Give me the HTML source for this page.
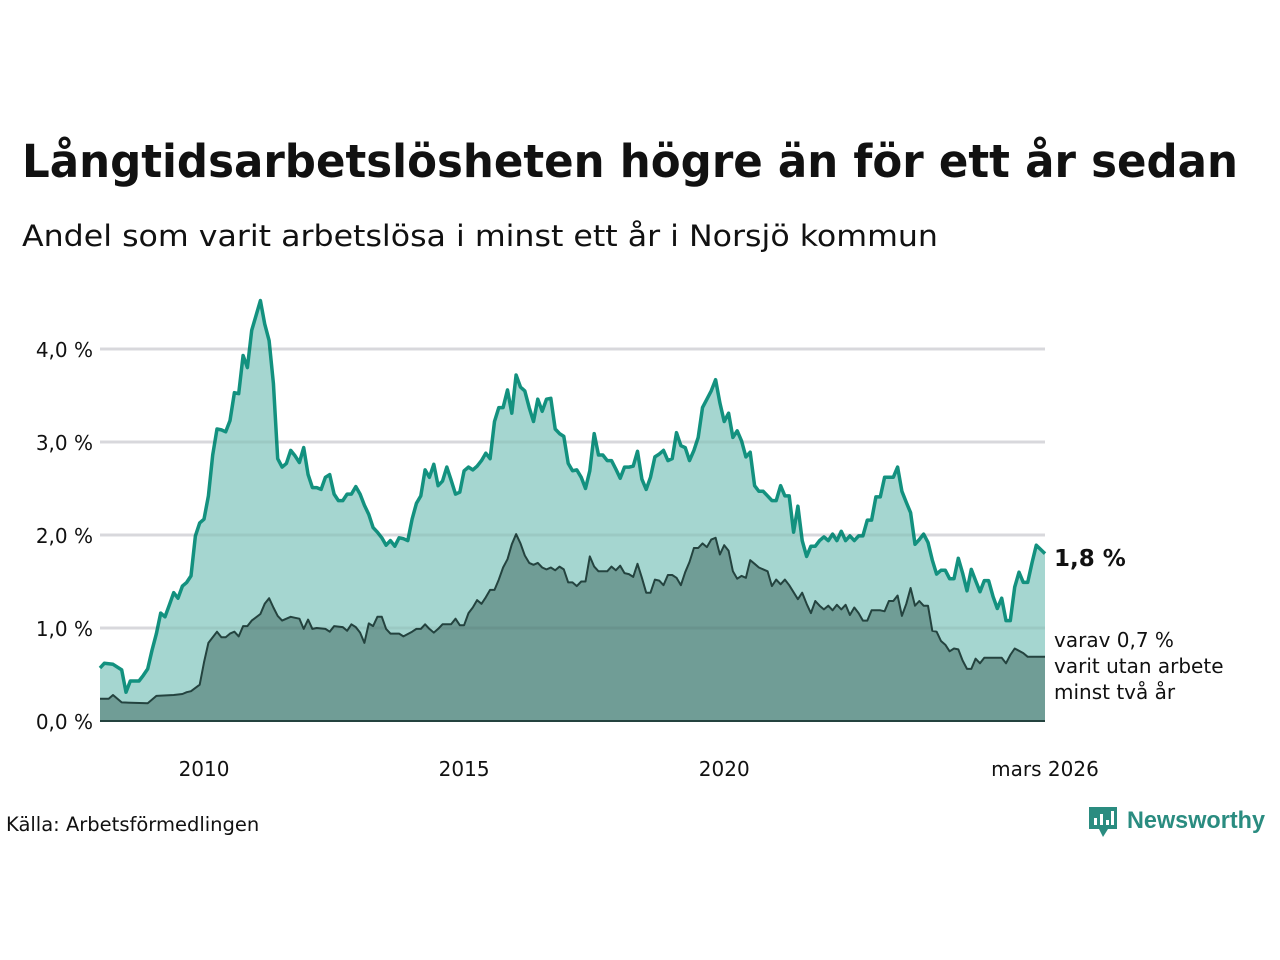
<!DOCTYPE html>
<html><head><meta charset="utf-8"><style>
body{margin:0;background:#fff;}
svg{display:block;font-family:"DejaVu Sans","Liberation Sans",sans-serif;}
</style></head><body>
<svg width="1280" height="960" viewBox="0 0 1280 960">
<text x="22" y="177" font-size="45" font-weight="bold" fill="#111" textLength="1216" lengthAdjust="spacingAndGlyphs">Långtidsarbetslösheten högre än för ett år sedan</text>
<text x="22" y="246" font-size="29" fill="#111" textLength="916" lengthAdjust="spacingAndGlyphs">Andel som varit arbetslösa i minst ett år i Norsjö kommun</text>
<g id="grid"></g>
<g id="areas"></g>
<g id="ylabels"></g>
<g id="xlabels"></g>
<text x="1054" y="566" font-size="23" font-weight="bold" fill="#111">1,8 %</text>
<text font-size="20" fill="#111"><tspan x="1054" y="647">varav 0,7 %</tspan><tspan x="1054" y="673">varit utan arbete</tspan><tspan x="1054" y="699">minst två år</tspan></text>
<text x="6" y="831" font-size="19.5" fill="#111">Källa: Arbetsförmedlingen</text>
<g>
<path d="M1089 807h28v22h-9l-5 8-4-8h-10z" fill="#2a8c80"/>
<rect x="1094" y="818" width="3" height="7" fill="#fff"/><rect x="1100" y="814" width="3" height="11" fill="#fff"/><rect x="1106" y="820" width="3" height="5" fill="#fff"/><rect x="1111" y="811" width="3" height="14" fill="#fff"/>
<text x="1127" y="828" font-size="24" font-weight="bold" fill="#2a8c80" textLength="138" lengthAdjust="spacingAndGlyphs" font-family="Liberation Sans, sans-serif">Newsworthy</text>
</g>
</svg>
<script>
const yTicks=[0,1,2,3,4];
const yTickLabels=["0,0 %","1,0 %","2,0 %","3,0 %","4,0 %"];
const xTickYears=[2010,2015,2020];
const xTickLabels=["2010","2015","2020"];
// months since Jan 2008
const totalMonths=[0,1,3,5,6,7,9,10,11,12,13,14,15,16,17,18,19,20,21,22,23,24,25,26,27,28,29,30,31,32,33,34,35,37,38,39,40,41,42,43,44,45,46,47,48,49,50,51,52,53,54,55,56,57,58,59,60,61,62,63,64,65,66,67,68,69,70,71,72,73,74,75,76,77,78,79,80,81,82,83,84,85,86,87,88,89,90,91,92,93,94,95,96,97,98,99,100,101,102,103,104,105,106,107,108,109,110,111,112,113,114,115,116,117,118,119,120,121,122,123,124,125,126,127,128,129,130,131,132,133,134,135,136,137,138,139,140,141,142,143,144,145,146,147,148,149,150,151,152,153,154,155,156,157,158,159,160,161,162,163,164,165,166,167,168,169,170,171,172,173,174,175,176,177,178,179,180,181,182,183,184,185,186,187,188,189,190,191,192,193,194,195,196,197,198,199,200,201,202,203,204,205,206,207,208,209,210,211,212,213,214,215,216,218];
const totalValues=[0.57,0.62,0.61,0.55,0.31,0.43,0.43,0.49,0.56,0.76,0.94,1.16,1.12,1.25,1.38,1.32,1.45,1.49,1.56,1.99,2.13,2.17,2.42,2.86,3.14,3.13,3.11,3.23,3.53,3.52,3.93,3.80,4.20,4.52,4.27,4.09,3.63,2.82,2.73,2.77,2.91,2.85,2.78,2.94,2.65,2.51,2.51,2.49,2.62,2.65,2.44,2.37,2.37,2.44,2.44,2.52,2.44,2.32,2.22,2.08,2.03,1.97,1.89,1.94,1.88,1.97,1.96,1.94,2.17,2.34,2.42,2.70,2.62,2.76,2.53,2.58,2.73,2.59,2.44,2.46,2.69,2.73,2.70,2.74,2.80,2.88,2.82,3.22,3.37,3.37,3.56,3.31,3.72,3.59,3.55,3.37,3.22,3.46,3.33,3.46,3.47,3.14,3.09,3.06,2.77,2.69,2.70,2.62,2.50,2.69,3.09,2.86,2.86,2.80,2.80,2.71,2.61,2.73,2.73,2.74,2.90,2.60,2.49,2.62,2.84,2.87,2.91,2.80,2.82,3.10,2.96,2.94,2.80,2.91,3.05,3.37,3.46,3.55,3.67,3.42,3.22,3.31,3.05,3.12,3.01,2.84,2.89,2.53,2.47,2.47,2.42,2.37,2.37,2.53,2.42,2.42,2.03,2.31,1.94,1.77,1.88,1.88,1.94,1.98,1.94,2.01,1.94,2.04,1.94,1.99,1.94,1.99,1.99,2.16,2.16,2.41,2.41,2.62,2.62,2.62,2.73,2.47,2.35,2.24,1.90,1.95,2.01,1.92,1.73,1.58,1.62,1.62,1.53,1.53,1.75,1.59,1.40,1.63,1.51,1.39,1.51,1.51,1.34,1.21,1.32,1.08,1.08,1.44,1.60,1.49,1.49,1.70,1.89,1.80];
const longMonths=[0,2,3,5,11,13,17,19,20,21,23,24,25,27,28,29,30,31,32,33,34,35,37,38,39,40,41,42,44,45,46,47,48,49,50,52,53,54,56,57,58,59,60,61,62,63,64,65,66,67,69,70,72,73,74,75,76,77,78,79,81,82,83,84,85,86,87,88,89,90,91,92,93,94,95,96,97,98,99,100,101,102,103,104,105,106,107,108,109,110,111,112,113,114,115,116,117,118,119,120,121,122,123,124,125,126,127,128,129,130,131,132,133,134,135,136,137,138,139,140,141,142,143,144,145,146,147,148,149,150,151,152,154,155,156,157,158,159,161,162,163,164,165,166,167,168,169,170,171,172,173,174,175,176,177,178,180,181,182,183,184,185,186,187,188,189,190,191,192,193,194,195,196,197,198,199,200,201,202,203,204,205,207,208,209,210,211,213,214,218];
const longValues=[0.24,0.24,0.28,0.20,0.19,0.27,0.28,0.29,0.31,0.32,0.39,0.63,0.84,0.96,0.90,0.90,0.94,0.96,0.91,1.02,1.02,1.08,1.15,1.26,1.32,1.22,1.13,1.08,1.12,1.11,1.10,0.99,1.09,0.99,1.00,0.99,0.96,1.02,1.01,0.97,1.04,1.01,0.95,0.84,1.05,1.02,1.12,1.12,0.99,0.94,0.94,0.91,0.96,0.99,0.99,1.04,0.99,0.95,0.99,1.04,1.04,1.10,1.03,1.03,1.16,1.22,1.30,1.26,1.33,1.41,1.41,1.52,1.65,1.74,1.90,2.01,1.91,1.78,1.70,1.68,1.70,1.65,1.63,1.65,1.62,1.66,1.63,1.49,1.49,1.45,1.50,1.50,1.77,1.66,1.61,1.61,1.61,1.66,1.62,1.67,1.59,1.58,1.55,1.69,1.54,1.38,1.38,1.52,1.51,1.46,1.57,1.57,1.54,1.46,1.60,1.71,1.86,1.86,1.91,1.87,1.95,1.97,1.79,1.89,1.83,1.61,1.53,1.56,1.54,1.73,1.69,1.65,1.61,1.45,1.52,1.47,1.52,1.46,1.31,1.38,1.26,1.16,1.29,1.24,1.20,1.24,1.19,1.25,1.20,1.25,1.14,1.22,1.16,1.08,1.08,1.19,1.19,1.18,1.29,1.29,1.35,1.13,1.26,1.43,1.24,1.29,1.24,1.24,0.97,0.96,0.86,0.82,0.75,0.78,0.77,0.65,0.56,0.56,0.67,0.62,0.68,0.68,0.68,0.68,0.62,0.71,0.78,0.73,0.69,0.69];

const NS='http://www.w3.org/2000/svg';
const X0=100,X1=1045,Y0=721,PXPCT=93,LAST=218;
const xs=m=>X0+(X1-X0)*m/LAST;
const ys=v=>Y0-v*PXPCT;
function mk(tag,attrs,parent){const e=document.createElementNS(NS,tag);for(const k in attrs)e.setAttribute(k,attrs[k]);parent.appendChild(e);return e;}
const grid=document.getElementById('grid'),areas=document.getElementById('areas'),yl=document.getElementById('ylabels'),xl=document.getElementById('xlabels');
yTicks.forEach((t,i)=>{
  if(t>0){const l=mk('line',{x1:X0,x2:X1,y1:ys(t),y2:ys(t),stroke:'#e6e6ea','stroke-width':3},grid);
  
  }
  const tx=mk('text',{x:93,y:ys(t)+8,'text-anchor':'end','font-size':20,fill:'#111'},yl);
  tx.textContent=yTickLabels[i];
  
  
});
xTickYears.forEach((yr,i)=>{
  const tx=mk('text',{x:xs((yr-2008)*12),y:776,'text-anchor':'middle','font-size':20,fill:'#111'},xl);
  tx.textContent=xTickLabels[i];
  
  
});
const lastTx=mk('text',{x:X1,y:776,'text-anchor':'middle','font-size':20,fill:'#111'},xl);
lastTx.textContent='mars 2026';


function series(months,vals,fill,stroke,sw,name){
  let d='';months.forEach((m,i)=>{d+=(i?'L':'M')+xs(m).toFixed(1)+' '+ys(vals[i]).toFixed(1);});
  const a=mk('path',{d:d+'L'+xs(months[months.length-1])+' '+Y0+'L'+xs(months[0])+' '+Y0+'Z',fill:fill},areas);
  
  
  const l=mk('path',{d:d,fill:'none',stroke:stroke,'stroke-width':sw,'stroke-linejoin':'round'},areas);
  
  
}
series(totalMonths,totalValues,'#a5d6d0','#13917f',3.5,'total');
series(longMonths,longValues,'#709d96','#24433f',2,'longterm');
yTicks.forEach(t=>{if(t>0){const l=mk('line',{x1:X0,x2:X1,y1:ys(t),y2:ys(t),stroke:'#000','stroke-opacity':0.06,'stroke-width':3},areas);

}});
const base=mk('line',{x1:X0,x2:X1,y1:Y0,y2:Y0,stroke:'#24433f','stroke-width':2},areas);


</script>
</body></html>
